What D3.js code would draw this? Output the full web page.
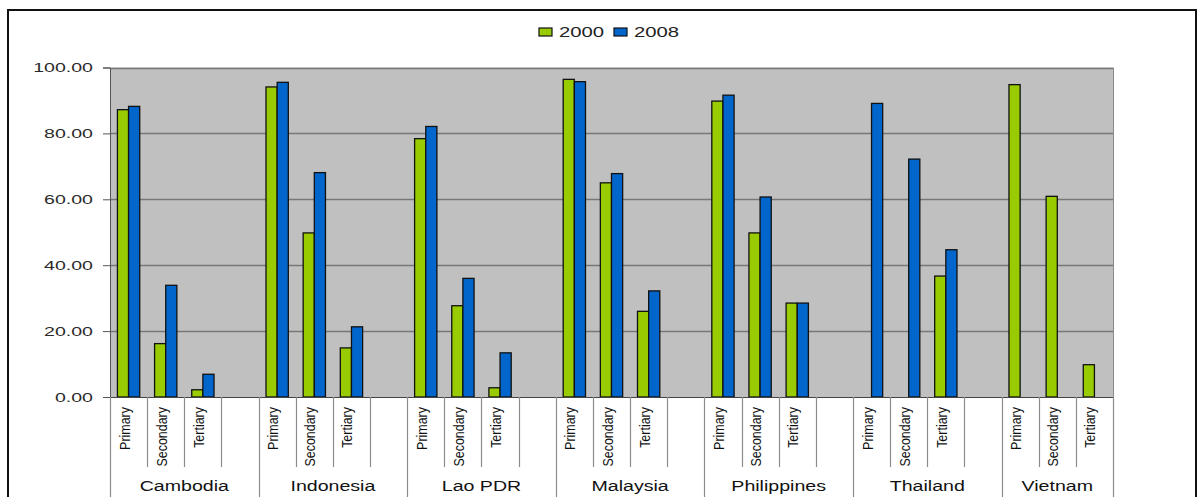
<!DOCTYPE html>
<html>
<head>
<meta charset="utf-8">
<script src="https://cdn.jsdelivr.net/npm/d3@7"></script>
<style>
  html, body { margin: 0; padding: 0; background: #fff; }
  svg { display: block; font-family: "Liberation Sans", Arial, sans-serif; }
</style>
</head>
<body>
<svg id="chart" width="1200" height="497"></svg>
<script>
// Enrolment rates by education level, 2000 vs 2008
const countries = ["Cambodia", "Indonesia", "Lao PDR", "Malaysia", "Philippines", "Thailand", "Vietnam"];
const levels = ["Primary", "Secondary", "Tertiary"];
const years = ["2000", "2008"];
// one value per country x level, in the order of countries then levels
const values2000 = [87.2, 16.2, 2.2,  94.1, 49.8, 14.9,  78.4, 27.7, 2.8,  96.4, 65.0, 26.0,  89.8, 49.8, 28.5,  null, null, 36.7,  94.8, 60.9, 9.8];
const values2008 = [88.2, 33.9, 6.9,  95.5, 68.1, 21.3,  82.1, 36.0, 13.4,  95.7, 67.8, 32.2,  91.6, 60.7, 28.5,  89.1, 72.2, 44.7,  null, null, null];
const yTicks = [0, 20, 40, 60, 80, 100];

const colors = { "2000": "#99cc00", "2008": "#0066cc" };
const TEXT_STRETCH = 1.45;

const svg = d3.select("#chart");
const plot = { left: 110, right: 1113, top: 67.5, bottom: 397 };

// Category slots: three levels per country plus a spacer slot between countries
const slots = [];
const groups = [];
countries.forEach((c, i) => {
  const start = slots.length;
  levels.forEach(l => slots.push({ key: c + "|" + l, country: c, level: l }));
  if (i < countries.length - 1) slots.push({ key: c + "|", country: c, level: null });
  groups.push({ country: c, start, end: slots.length });
});

const records = [];
countries.forEach((c, i) => {
  levels.forEach((l, j) => {
    const k = i * levels.length + j;
    records.push({ key: c + "|" + l, year: "2000", value: values2000[k] });
    records.push({ key: c + "|" + l, year: "2008", value: values2008[k] });
  });
});

const x = d3.scaleBand().domain(slots.map(s => s.key)).range([plot.left, plot.right]).padding(0);
const bw = x.bandwidth();
const xYear = d3.scaleBand().domain(years).range([bw * 0.2, bw * 0.8]).padding(0);
const y = d3.scaleLinear().domain([0, 100]).range([plot.bottom, plot.top]);

// Outer frame
svg.append("rect")
  .attr("x", 8).attr("y", 10).attr("width", 1188).attr("height", 530)
  .attr("fill", "none").attr("stroke", "#111").attr("stroke-width", 2);

// Plot background
svg.append("rect")
  .attr("x", plot.left).attr("y", plot.top)
  .attr("width", plot.right - plot.left).attr("height", plot.bottom - plot.top)
  .attr("fill", "#c0c0c0");

// Horizontal gridlines
svg.append("g").selectAll("line")
  .data(yTicks.filter(t => t > 0))
  .join("line")
  .attr("x1", plot.left).attr("x2", plot.right)
  .attr("y1", d => Math.round(y(d)) + 0.5).attr("y2", d => Math.round(y(d)) + 0.5)
  .attr("stroke", "#777").attr("stroke-width", 1.3);

// Right border of plot area
svg.append("line")
  .attr("x1", plot.right + 0.5).attr("x2", plot.right + 0.5)
  .attr("y1", plot.top).attr("y2", plot.bottom)
  .attr("stroke", "#8a8a8a");

// Bars
svg.append("g").selectAll("rect")
  .data(records.filter(d => d.value != null))
  .join("rect")
  .attr("x", d => x(d.key) + xYear(d.year))
  .attr("y", d => y(d.value))
  .attr("width", xYear.bandwidth())
  .attr("height", d => y(0) - y(d.value))
  .attr("fill", d => colors[d.year])
  .attr("stroke", "#111").attr("stroke-width", 1.3);

// Y axis
const yAxis = svg.append("g")
  .attr("transform", `translate(${plot.left},0)`)
  .call(d3.axisLeft(y).tickValues(yTicks).tickFormat(d3.format(".2f")).tickSize(7).tickPadding(10));
yAxis.select(".domain").attr("stroke", "#555");
yAxis.selectAll(".tick line").attr("stroke", "#555");
yAxis.selectAll(".tick text")
  .attr("font-size", 13.5).attr("fill", "#2a2a2a")
  .attr("x", null)
  .attr("transform", `translate(-17,0) scale(${TEXT_STRETCH},1)`);

// X axis baseline
svg.append("line")
  .attr("x1", plot.left).attr("x2", plot.right)
  .attr("y1", plot.bottom + 0.5).attr("y2", plot.bottom + 0.5)
  .attr("stroke", "#444");

// Slot separators: short between levels, full height between countries
const groupEdges = new Set(groups.map(g => g.start).concat([slots.length]));
const edges = d3.range(slots.length + 1);
svg.append("g").selectAll("line")
  .data(edges)
  .join("line")
  .attr("x1", i => Math.round(plot.left + i * bw) + 0.5)
  .attr("x2", i => Math.round(plot.left + i * bw) + 0.5)
  .attr("y1", plot.bottom)
  .attr("y2", i => groupEdges.has(i) ? 497 : 467)
  .attr("stroke", "#8c8c8c").attr("stroke-width", 1.2);

// Level labels, rotated and slightly condensed
svg.append("g").selectAll("text")
  .data(slots.filter(s => s.level))
  .join("text")
  .attr("transform", s => `translate(${x(s.key) + bw / 2 + 1},407) rotate(-90) scale(0.86,1)`)
  .attr("text-anchor", "end")
  .attr("font-size", 14.5)
  .attr("fill", "#111")
  .text(s => s.level);

// Country labels
svg.append("g").selectAll("text")
  .data(groups)
  .join("text")
  .attr("transform", g => {
    const cx = plot.left + (g.start + g.end) / 2 * bw;
    return `translate(${cx},491) scale(${TEXT_STRETCH - 0.05},1)`;
  })
  .attr("text-anchor", "middle")
  .attr("font-size", 14)
  .attr("fill", "#111")
  .text(g => g.country);

// Legend
const legend = svg.append("g").attr("transform", "translate(539,32)");
const item = legend.selectAll("g")
  .data(years)
  .join("g")
  .attr("transform", (d, i) => `translate(${i * 75},0)`);
item.append("rect")
  .attr("x", 0).attr("y", -4).attr("width", 13).attr("height", 8)
  .attr("fill", d => colors[d]).attr("stroke", "#111").attr("stroke-width", 1.2);
item.append("text")
  .attr("transform", `translate(20,5) scale(${TEXT_STRETCH},1)`)
  .attr("font-size", 14)
  .attr("fill", "#222")
  .text(d => d);
</script>
</body>
</html>
